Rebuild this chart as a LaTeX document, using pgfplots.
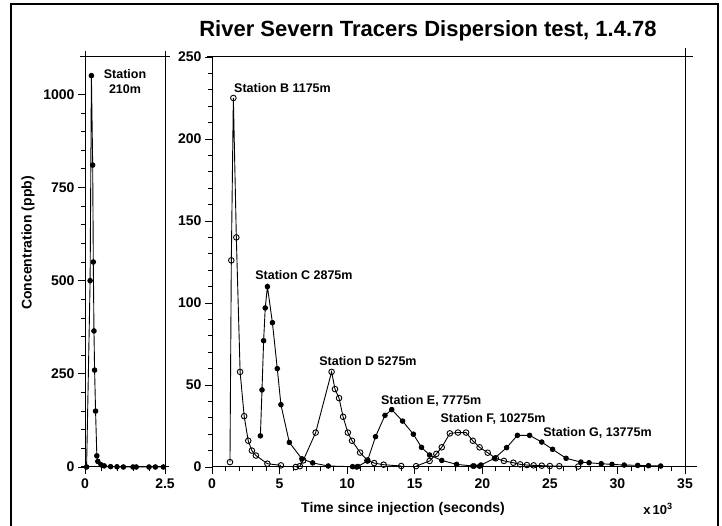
\documentclass[border=0pt]{standalone}
\usepackage{pgfplots}
\pgfplotsset{compat=1.18}
\usepackage{fontspec}
\setmainfont{Liberation Sans}
\pgfplotsset{
 every axis/.append style={scale only axis, height=410pt, anchor=south west,
  axis line style={line width=1pt}, tick style={line width=0.8pt, black},
  major tick length=7pt, minor tick length=4.5pt, tick align=outside,
  xtick pos=bottom, ytick pos=left,
  tick label style={font=\fontsize{14}{14}\selectfont\bfseries},
  /pgf/number format/assume math mode=true, /pgf/number format/1000 sep={},
  clip=false, ymin=0},
 filled/.style={black, line width=0.9pt, mark=*, mark size=2.3pt},
 open/.style={black, line width=0.9pt, mark=o, mark size=2.8pt, mark options={fill=white, line width=0.9pt}},
}
\begin{document}
\begin{tikzpicture}
\path[use as bounding box] (0pt,0pt) rectangle (722pt,526pt);
\draw[line width=1.3pt] (11pt,-2pt) -- (11pt,522pt) -- (718pt,522pt) -- (718pt,-2pt);
% left panel
\begin{axis}[at={(85pt,59pt)}, width=80pt, xmin=0, xmax=2.5, ymax=1100,
  xtick={0,2.5}, minor xtick={0.5,1,1.5,2},
  ytick={0,250,500,750,1000}, minor y tick num=4,
  xticklabel style={yshift=-1pt}]
\addplot[filled] coordinates {
(0.05,0) (0.16,500) (0.2,1050) (0.24,810) (0.26,550) (0.28,365) (0.3,260) (0.33,150)
(0.37,30) (0.4,15) (0.5,6) (0.6,3) (0.8,1) (1.0,0.5) (1.2,0) (1.5,0) (1.6,0) (2.0,0) (2.2,0) (2.45,0)};
\node[font=\fontsize{12.5}{15}\selectfont\bfseries, align=center] at (axis cs:1.25,1035) {Station\\210m};
\draw[line width=1pt] ([xshift=-5pt]rel axis cs:0,1) -- ([xshift=5pt]rel axis cs:1,1);
\draw[line width=1pt] ([yshift=6pt]rel axis cs:0,1) -- (rel axis cs:0,1);
\draw[line width=1pt] ([yshift=6pt]rel axis cs:1,1) -- (rel axis cs:1,1);
\draw[line width=1pt] ([xshift=-4pt]rel axis cs:0,0) -- ([xshift=4pt]rel axis cs:1,0);
\end{axis}
% right panel
\begin{axis}[at={(212pt,59pt)}, width=473pt, xmin=0, xmax=35, ymax=250,
  xtick={0,5,...,35}, minor x tick num=4,
  ytick={0,50,...,250}, minor y tick num=4,
  xticklabel style={yshift=-1pt}]
\addplot[open] coordinates {
(1.33,3) (1.43,126) (1.58,225) (1.80,140) (2.08,58) (2.38,31) (2.68,16) (2.95,10) (3.25,7) (4.10,2) (5.10,1)};
\addplot[filled] coordinates {
(3.58,19) (3.70,47) (3.82,77) (3.94,97) (4.10,110) (4.47,88) (4.83,60) (5.10,38) (5.72,15)
(6.65,5) (7.45,2.5) (8.60,0.6) (10.4,0.2) (10.7,0)};
\addplot[open] coordinates {
(6.2,0) (6.5,0.5) (6.75,4) (7.67,21) (8.85,58) (9.10,47.5) (9.40,42) (9.70,30.6) (10.05,21)
(10.36,16) (10.96,8.8) (11.5,4) (12.0,2.4) (12.7,1.4) (14.0,0.6)};
\addplot[filled] coordinates {
(10.8,0.3) (11.5,3.7) (12.1,18.5) (12.8,31.5) (13.3,35) (14.1,28) (14.9,20) (15.5,12) (16.1,7.3)
(17.0,4) (18.1,1.6) (19.3,0.6) (19.8,0.5)};
\addplot[open] coordinates {
(15.1,0.5) (16.1,3.7) (16.6,8) (17.0,12) (17.6,20.5) (18.2,21) (18.8,21) (19.3,16) (19.8,12)
(20.4,8.7) (21.0,5.3) (21.6,3.7) (22.3,2.6) (22.8,1.6) (23.3,1.2) (23.8,1) (24.4,0.8) (25.0,0.6)
(25.7,0.5) (27.1,0.3)};
\addplot[filled] coordinates {
(19.4,0.6) (19.9,1.2) (20.9,5.3) (21.8,11.8) (22.6,19.3) (23.5,19.3) (24.4,15.2) (25.2,10.8)
(26.2,5.3) (27.3,3) (27.9,2.6) (28.8,2) (29.6,1.6) (30.5,1.2) (31.5,1) (32.3,0.8) (33.2,0.6)};
\begin{scope}[every node/.style={font=\fontsize{12.5}{15}\selectfont\bfseries, anchor=west, inner sep=0pt}]
\node at (axis cs:1.63,231) {Station B 1175m};
\node at (axis cs:3.19,117) {Station C 2875m};
\node at (axis cs:7.93,64.6) {Station D 5275m};
\node at (axis cs:12.5,40.2) {Station E, 7775m};
\node at (axis cs:16.9,29.3) {Station F, 10275m};
\node at (axis cs:24.5,20.7) {Station G, 13775m};
\end{scope}
\draw[line width=1pt] ([xshift=-5pt]rel axis cs:0,1) -- ([xshift=8pt]rel axis cs:1,1);
\draw[line width=1pt] ([yshift=9pt]rel axis cs:1,1) -- (rel axis cs:1,1);
\draw[line width=1pt] (rel axis cs:1,0) -- ([xshift=12pt]rel axis cs:1,0);
\end{axis}
\node[font=\fontsize{22}{24}\selectfont\bfseries] at (428pt,495pt) {River Severn Tracers Dispersion test, 1.4.78};
\node[font=\fontsize{14}{16}\selectfont\bfseries] at (403pt,17pt) {Time since injection (seconds)};
\node[font=\fontsize{13}{16}\selectfont\bfseries] at (658pt,17pt) {x\,10\textsuperscript{3}};
\node[font=\fontsize{14}{16}\selectfont\bfseries, rotate=90] at (28pt,283pt) {Concentration (ppb)};
\end{tikzpicture}
\end{document}
